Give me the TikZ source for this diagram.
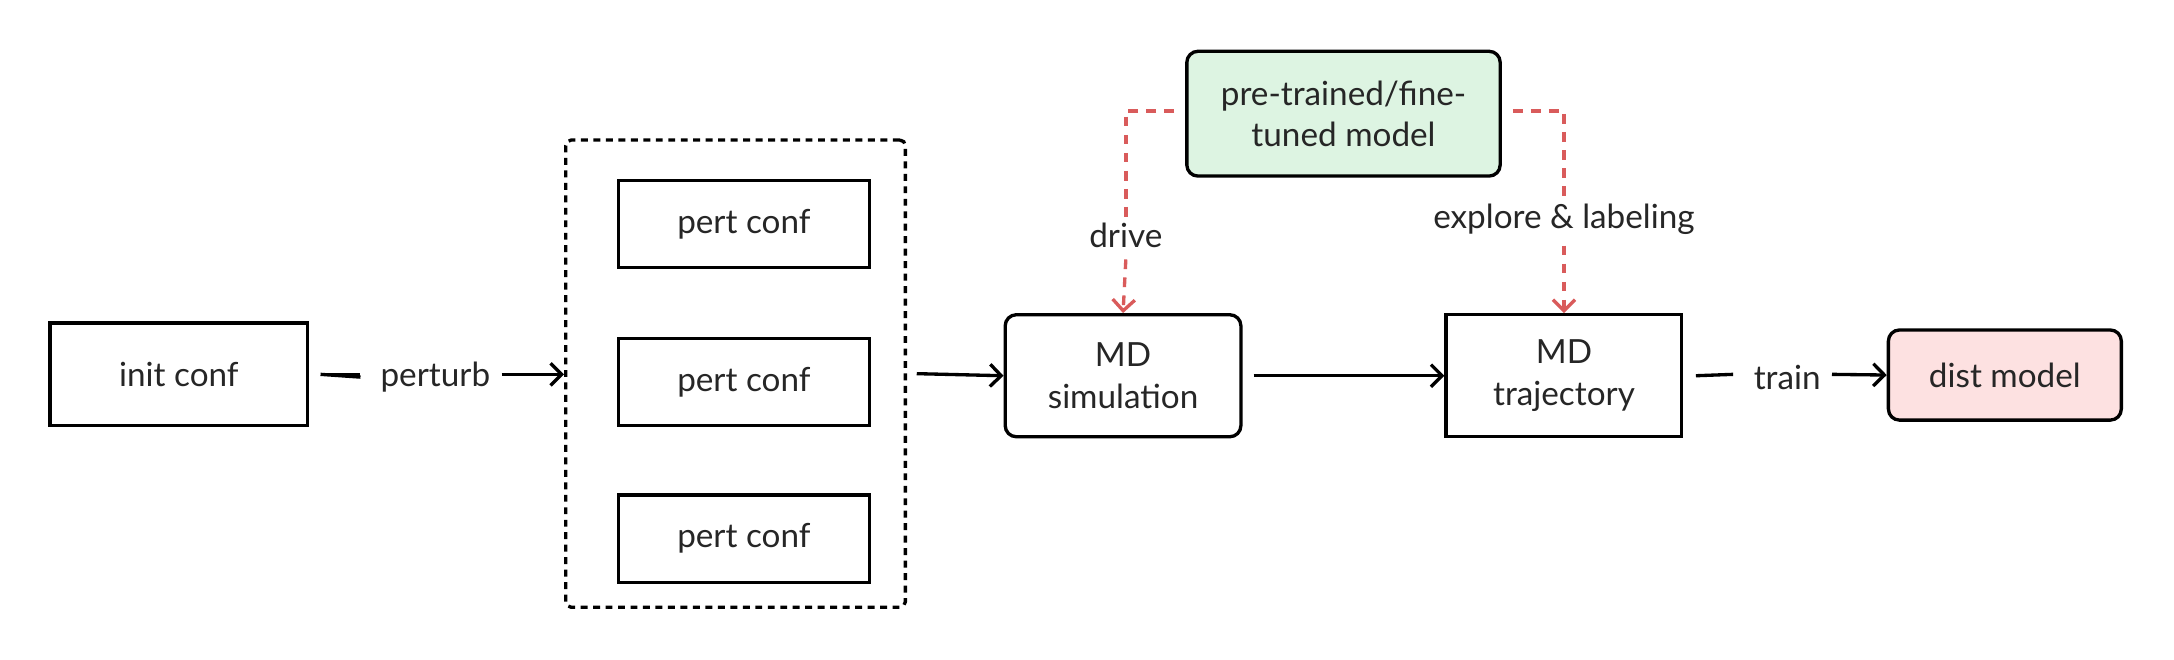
\documentclass[tikz,border=0pt]{standalone}
\usepackage{fontspec}
\setmainfont{Lato}
\usetikzlibrary{arrows.meta}
\definecolor{redd}{HTML}{D95B5B}
\definecolor{greenf}{HTML}{DDF4E2}
\definecolor{pinkf}{HTML}{FDE1E1}
\begin{document}
\begin{tikzpicture}[x=1pt,y=-1pt,
  box/.style={draw,line width=2.4pt,inner sep=0pt,align=center,font=\fontsize{24}{30}\selectfont,text=black!85},
  lbl/.style={font=\fontsize{24}{30}\selectfont,text=black!85,inner sep=0pt},
  arr/.style={line width=2.4pt,-{Straight Barb[length=8pt,width=16pt]}},
  rarr/.style={line width=2.4pt,redd,dash pattern=on 7pt off 6pt,-{Straight Barb[length=8pt,width=16pt]}},
  rline/.style={line width=2.4pt,redd,dash pattern=on 7pt off 6pt}]
\useasboundingbox (0,0) rectangle (1568,476);
\node[box,minimum width=186,minimum height=74] (init) at (129,270) {init conf};
\node[draw,line width=2.4pt,dash pattern=on 5pt off 4pt,rounded corners=4pt,minimum width=245,minimum height=337,inner sep=0pt] (grp) at (530.5,269.5) {};
\node[box,minimum width=181,minimum height=63] (p1) at (536.5,161.5) {pert conf};
\node[box,minimum width=181,minimum height=63] (p2) at (536.5,275.5) {pert conf};
\node[box,minimum width=181,minimum height=63] (p3) at (536.5,388.5) {pert conf};
\node[lbl] (perturb) at (314,272) {perturb};
\node[box,rounded corners=8pt,minimum width=170,minimum height=88] (sim) at (810,271) {MD\\simulation};
\node[box,minimum width=170,minimum height=88] (traj) at (1128,271) {MD\\trajectory};
\node[lbl] (train) at (1289,272) {train};
\node[box,rounded corners=8pt,fill=pinkf,minimum width=168,minimum height=65] (dist) at (1446,270.5) {dist model};
\node[box,rounded corners=8pt,fill=greenf,minimum width=226,minimum height=90] (pre) at (969,82) {pre-trained/fine-\\tuned model};
\node[lbl] (drive) at (812,170) {drive};
\node[lbl] (expl) at (1128,158) {explore \& labeling};
\draw[line width=2.4pt] (init.east)++(8,0) coordinate (a1) -- (perturb.west-|260,0) coordinate (a2);
\draw[line width=2.4pt] (a1) -- (260,270);
\draw[arr] (perturb.east)++(8,-2) -- (grp.west|-0,270);
\draw[arr] (grp.east)++(7,0) -- (sim.west);
\draw[arr] (sim.east)++(8,0) -- (traj.west);
\draw[line width=2.4pt] (traj.east)++(9,0) -- (1250,270);
\draw[arr] (train.east)++(8,-2) -- (dist.west);
\draw[rline] (pre.west)++(-8,-2) -- (812,80) -- (drive.north);
\draw[rarr] (drive.south)++(0,8) -- (sim.north);
\draw[rline] (pre.east)++(8,-2) -- (1128,80) -- (expl.north);
\draw[rarr] (expl.south)++(0,8) -- (traj.north);
\end{tikzpicture}
\end{document}
